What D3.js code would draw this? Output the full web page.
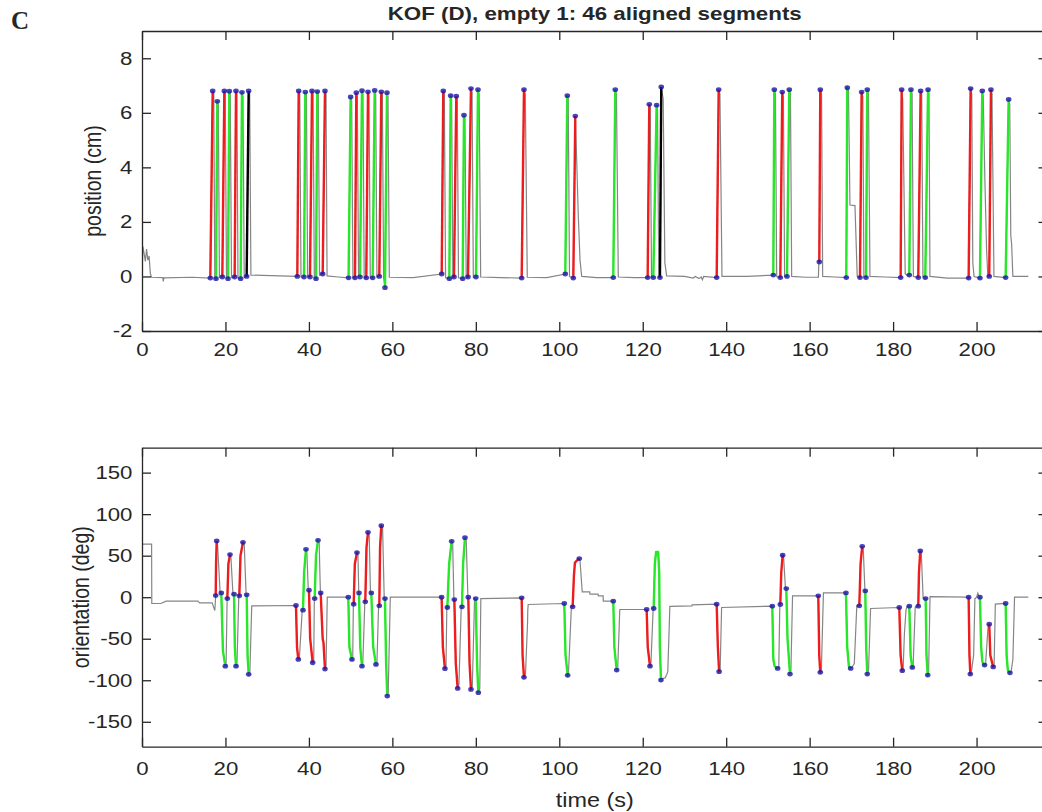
<!DOCTYPE html>
<html>
<head>
<meta charset="utf-8">
<script src="https://cdn.jsdelivr.net/npm/d3@7"></script>
<style>
body { margin: 0; background: #fff; }
text { font-family: "Liberation Sans", Arial, sans-serif; fill: #262626; }
.axis path, .axis line { stroke: #262626; stroke-width: 1.3; }
</style>
</head>
<body>
<svg id="chart" width="1042" height="812"></svg>
<script>
/* values */
var timeDomain = [0, 217];
var timeTicks = [0, 20, 40, 60, 80, 100, 120, 140, 160, 180, 200];
var posTicks = [-2, 0, 2, 4, 6, 8];
var oriTicks = [-150, -100, -50, 0, 50, 100, 150];

/* position trace (time s, cm) */
var posTrace = [[0,-0.02],[0.2,1.1],[0.5,0.85],[0.8,0.55],[1.1,1.0],[1.4,0.6],[1.7,0.75],[2.0,0.1],[2.3,-0.03],[5.0,-0.04],[5.1,-0.18],[5.25,-0.05],[12,-0.03],
[16.37,-0.06],[16.94,6.8],[17.2,6.7],[17.45,-0.05],
[17.73,-0.08],[18.05,6.42],[18.3,6.3],[18.55,-0.03],
[19.25,-0.02],[19.73,6.8],[19.95,6.7],[20.25,-0.05],
[20.61,-0.08],[20.92,6.79],[21.15,6.7],[21.45,-0.04],
[22.2,-0.02],[22.53,6.8],[22.75,6.7],[23.0,-0.05],
[23.64,-0.08],[23.96,6.75],[24.2,6.6],[24.5,-0.04],
[25.08,0.0],[25.56,6.8],[25.8,6.7],[26.1,0.05],[31,0.03],
[37.22,0.0],[37.55,6.8],[37.8,6.7],[38.1,-0.02],
[38.82,-0.02],[39.14,6.76],[39.4,6.65],[39.7,-0.02],
[40.26,-0.02],[40.74,6.8],[41.0,6.7],[41.3,-0.05],
[41.7,-0.08],[42.01,6.78],[42.25,6.7],[42.55,0.05],
[43.3,0.09],[43.85,6.8],[44.1,6.7],[44.35,0.02],[47,-0.02],
[49.5,-0.05],[50.0,6.58],[50.25,6.45],[50.55,-0.05],
[51.04,-0.05],[51.36,6.74],[51.6,6.6],[51.9,-0.02],
[52.24,-0.02],[52.72,6.81],[52.95,6.7],[53.25,-0.05],
[53.75,-0.05],[54.16,6.77],[54.4,6.65],[54.7,-0.05],
[55.28,-0.05],[55.76,6.82],[56.0,6.7],[56.3,-0.02],
[56.87,0.0],[57.35,6.77],[57.6,6.65],[57.9,-0.05],
[58.23,-0.41],[58.71,6.74],[58.95,6.6],[59.27,-0.03],[65,-0.04],
[71.82,0.09],[72.2,6.8],[72.45,6.7],[72.75,-0.05],
[73.65,-0.08],[73.97,6.63],[74.2,6.5],[74.5,-0.04],
[74.77,-0.02],[75.32,6.61],[75.55,6.5],[75.85,-0.05],
[76.85,-0.08],[77.16,5.91],[77.4,5.8],[77.7,-0.05],
[78.12,-0.02],[78.84,6.89],[79.1,6.75],[79.4,-0.03],
[80.04,-0.02],[80.52,6.85],[80.8,6.7],[81.16,-0.02],[86,-0.04],
[90.99,-0.06],[91.54,6.85],[91.85,6.7],[92.33,-0.03],[97,-0.04],
[101.44,0.09],[101.92,6.63],[102.15,6.5],[102.45,0.0],
[103.36,-0.06],[103.84,5.88],[104.17,4.27],[104.57,2.17],[104.97,0.6],[105.37,0.0],[109,-0.04],
[112.94,-0.04],[113.42,6.85],[113.7,6.7],[114.14,-0.02],[118,-0.04],
[121.18,-0.04],[121.57,6.31],[121.8,6.2],[122.1,-0.02],
[122.53,-0.04],[123.33,6.28],[123.55,6.1],[123.85,-0.02],
[124.13,-0.04],[124.44,6.95],[124.9,6.5],[125.3,0.5],[125.73,0.02],[130,0.0],[132.1,-0.06],[132.6,0.0],[133.5,-0.08],[134.0,-0.02],[134.3,-0.12],[134.6,0.0],
[137.72,-0.04],[138.2,6.85],[138.5,6.7],[138.99,0.0],[145,0.0],
[151.29,0.05],[151.53,6.85],[151.8,6.7],[152.1,0.0],
[152.97,-0.04],[153.44,6.76],[153.7,6.6],[154.0,0.0],
[154.57,0.0],[155.12,6.85],[155.4,6.7],[155.69,0.0],[159,-0.03],[162.1,-0.03],[162.2,0.5],
[162.31,0.53],[162.55,6.85],[162.85,6.7],[163.12,0.0],[166,-0.02],
[168.78,-0.04],[169.02,6.92],[169.3,6.85],[169.66,2.62],[170.86,2.6],[171.4,0.0],
[172.06,-0.04],[172.46,6.76],[172.75,6.6],[173.0,0.0],
[173.5,-0.04],[173.81,6.85],[174.1,6.7],[174.45,0.0],[178,-0.02],
[181.81,-0.04],[182.05,6.85],[182.3,6.5],[182.9,0.1],[183.3,0.05],
[183.88,0.05],[184.28,6.85],[184.55,6.7],[184.85,0.0],
[186.03,-0.04],[186.6,6.8],[186.85,6.7],[187.15,0.0],
[187.71,-0.04],[188.38,6.85],[188.6,6.7],[188.83,0.0],[193,-0.06],
[198.1,-0.06],[198.58,6.89],[198.85,6.7],[199.1,0.5],[199.4,0.0],
[200.81,-0.06],[201.37,6.8],[201.6,6.6],[202.0,3.5],[202.4,1.0],[202.7,0.0],
[203.04,0.0],[203.45,6.85],[203.7,6.7],[204.17,0.0],
[206.97,-0.04],[207.69,6.49],[207.95,6.3],[208.2,1.5],[208.4,1.2],[208.7,0.0],[212.4,0.0]];

/* highlighted position segments: start time, end time, colour code */
var posSegments = [[16.37,16.94,"r"],[17.73,18.05,"g"],[19.25,19.73,"r"],[20.61,20.92,"g"],[22.2,22.53,"r"],[23.64,23.96,"g"],[25.08,25.56,"k"],
[37.22,37.55,"r"],[38.82,39.14,"g"],[40.26,40.74,"r"],[41.7,42.01,"g"],[43.3,43.85,"r"],
[49.5,50.0,"g"],[51.04,51.36,"r"],[52.24,52.72,"g"],[53.75,54.16,"r"],[55.28,55.76,"g"],[56.87,57.35,"r"],[58.23,58.71,"g"],
[71.82,72.2,"r"],[73.65,73.97,"g"],[74.77,75.32,"r"],[76.85,77.16,"g"],[78.12,78.84,"r"],[80.04,80.52,"g"],
[90.99,91.54,"r"],[101.44,101.92,"g"],[103.36,103.84,"r"],[112.94,113.42,"g"],[121.18,121.57,"r"],[122.53,123.33,"g"],[124.13,124.44,"k"],[137.72,138.2,"r"],
[151.29,151.53,"g"],[152.97,153.44,"r"],[154.57,155.12,"g"],[162.31,162.55,"r"],[168.78,169.02,"g"],[172.06,172.46,"r"],[173.5,173.81,"g"],
[181.81,182.05,"r"],[183.88,184.28,"g"],[186.03,186.6,"r"],[187.71,188.38,"g"],[198.1,198.58,"r"],[200.81,201.37,"g"],[203.04,203.45,"r"],[206.97,207.69,"g"]];

/* orientation trace (time s, deg) */
var oriTrace = [[0,64],[2.3,64],[2.35,-7.6],[4.5,-7.6],[5.8,-4.8],[13.4,-4.8],[13.8,-6.8],[16.8,-6.8],[17.3,-14],[17.45,-16],
[17.66,2.0],[17.75,40],[17.9,67.7],[18.1,64],[18.75,3],
[19.0,5.2],[19.4,-65],[19.97,-83],[20.15,-82],[20.4,-1.6],
[20.45,-1.6],[20.7,40],[21.09,51.3],[21.3,49],[21.8,3.6],
[22.05,3.6],[22.25,-60],[22.53,-83],[22.75,-82],[23.2,1.6],
[23.32,1.6],[23.6,50],[24.2,66.1],[24.5,64],[24.95,2.8],
[25.09,2.8],[25.3,-70],[25.57,-92.9],[25.85,-90],[26.3,-10.5],
[36.9,-10],[37.15,-60],[37.46,-74.9],[37.7,-74],[38.4,-15.6],
[38.58,-15.6],[38.85,30],[39.3,57.7],[39.5,55],[39.85,8.4],
[40.02,8.4],[40.3,-50],[40.9,-78.9],[41.15,-78],[41.3,-1.6],
[41.38,-1.6],[41.7,50],[42.18,68.5],[42.45,66],[42.75,5.2],
[42.82,5.2],[43.3,-50],[43.5,-55],[43.85,-86.5],[44.1,-85],[44.4,0],
[49.44,0],[49.7,-60],[50.32,-74.9],[50.5,-74],[50.65,-8.4],
[50.73,-8.4],[51.0,40],[51.52,53.7],[51.75,52],[51.95,5.2],
[52.0,5.2],[52.3,-60],[52.72,-83],[52.9,-82],[53.4,-5.6],
[53.51,-5.6],[53.8,60],[54.16,78.1],[54.45,75],[54.75,5.2],
[54.95,5.2],[55.4,-60],[56.07,-80.9],[56.3,-80],[56.7,-10.4],
[56.87,-10.4],[57.05,60],[57.35,86.1],[57.65,84],[58.05,-1.6],
[58.23,-1.6],[58.5,-80],[58.78,-119],[59.0,-116],[59.5,0],
[71.8,0],[72.1,-60],[72.6,-86],[72.85,-85],[73.05,-12.4],
[73.17,-12.4],[73.6,40],[74.21,67.3],[74.45,65],[74.75,-2.8],
[74.85,-2.8],[75.2,-80],[75.65,-109.8],[75.95,-105],[76.5,-11.6],
[76.68,-11.6],[76.95,40],[77.4,71.7],[77.7,68],[78.1,0],
[78.2,0],[78.5,-80],[78.84,-111],[79.15,-108],[79.7,-1.6],
[79.97,-1.6],[80.3,-80],[80.6,-115],[80.95,-110],[81.2,-1.6],
[90.99,-0.8],[91.2,-70],[91.54,-96.5],[91.9,-93],[92.4,-30],[92.45,-16],[92.55,-8.8],
[101.2,-7.6],[101.5,-70],[102.01,-94.1],[102.2,-92],[102.9,-11.6],
[103.2,-11.6],[103.5,25],[103.75,41.7],[104.2,44],[104.8,46.5],[104.95,45],[105.5,6.4],[107.3,6.4],[107.35,3.6],[109.3,3.6],[109.35,1.6],[110.5,1.6],[110.55,-4.8],
[112.94,-4.8],[113.2,-60],[113.76,-87.7],[114.0,-86],[114.5,-14.8],
[120.94,-14.8],[121.2,-60],[121.74,-83],[121.95,-82],[122.5,-13.6],
[122.62,-13.6],[122.9,40],[123.2,54.5],[123.7,54.5],[123.95,30],[124.1,-60],[124.37,-99.8],[124.7,-98],[125.4,-97],[126.0,-90],[126.5,-11],[131.8,-10.4],[131.85,-9.2],
[137.72,-8.4],[138.0,-60],[138.3,-89.7],[138.55,-88],[138.9,-12.4],
[151.05,-10.8],[151.3,-75],[151.6,-83],[152.33,-85.7],[152.6,-85],[152.85,-10],
[152.97,-8.8],[153.2,30],[153.53,50.5],[153.75,49],[154.2,11],
[154.4,10.4],[154.7,-50],[155.29,-92.5],[155.5,-90],[155.9,1.6],
[162.07,1.6],[162.3,-70],[162.55,-90.5],[162.8,-89],[163.3,5.2],
[168.7,5.2],[169.0,-60],[169.4,-83],[169.83,-85.7],[170.2,-84],[170.7,-80],[171.3,-10.4],
[171.9,-10.4],[172.2,40],[172.6,61.3],[172.85,58],[173.25,7.6],
[173.33,7.6],[173.55,-60],[173.81,-92.5],[174.1,-90],[174.6,-13.6],
[181.48,-12.4],[181.8,-70],[182.2,-88.5],[182.4,-87],[182.7,-45],[183.1,-15],[183.4,-10.8],
[183.88,-10.8],[184.2,-70],[184.6,-84.5],[184.8,-83],[185.3,-12],
[186.03,-10.8],[186.2,30],[186.51,55.7],[186.75,54],[187.2,-1.6],
[187.8,-1.6],[188.0,-70],[188.3,-93.8],[188.5,-92],[188.85,0.8],
[198.1,0],[198.3,-70],[198.5,-92.5],[198.75,-90],[199.3,-70],[199.6,-2],[200.0,0],[200.3,5],[200.6,1],
[200.81,0],[201.1,-60],[201.4,-78],[201.92,-81.7],[202.15,-81],[202.8,-32.5],
[203.04,-32.5],[203.3,-70],[203.99,-84],[204.2,-83],[204.5,-8.4],
[206.97,-7.6],[207.2,-70],[207.5,-88],[208.0,-91],[208.3,-89],[208.7,-75],[209.1,0],[212.4,0]];

/* highlighted orientation segments */
var oriSegments = [[17.66,17.9,"r"],[19.0,19.97,"g"],[20.45,21.09,"r"],[22.05,22.53,"g"],[23.32,24.2,"r"],[25.09,25.57,"g"],
[36.9,37.46,"r"],[38.58,39.3,"g"],[40.02,40.9,"r"],[41.38,42.18,"g"],[42.82,43.85,"r"],
[49.44,50.32,"g"],[50.73,51.52,"r"],[52.0,52.72,"g"],[53.51,54.16,"r"],[54.95,56.07,"g"],[56.87,57.35,"r"],[58.23,58.78,"g"],
[71.8,72.6,"r"],[73.17,74.21,"g"],[74.85,75.65,"r"],[76.68,77.4,"g"],[78.2,78.84,"r"],[79.97,80.6,"g"],
[90.99,91.54,"r"],[101.2,102.01,"g"],[103.2,104.8,"r"],[112.94,113.76,"g"],[120.94,121.74,"r"],[122.62,124.37,"g"],[137.72,138.3,"r"],
[151.05,152.33,"g"],[152.97,153.53,"r"],[154.4,155.29,"g"],[162.07,162.55,"r"],[168.7,169.83,"g"],[171.9,172.6,"r"],[173.33,173.81,"g"],
[181.48,182.2,"r"],[183.88,184.6,"g"],[186.03,186.51,"r"],[187.8,188.3,"g"],[198.1,198.5,"r"],[200.81,201.92,"g"],[203.04,203.99,"r"],[206.97,208.0,"g"]];

var segColor = { r: "#ee1c1c", g: "#27e827", k: "#000000" };
var stretch = "scale(1.2,1)";   // the figure was widened a bit

var svg = d3.select("#chart");
var left = 142, right = 1047.5;

var xScale = d3.scaleLinear().domain(timeDomain).range([left, right]);

function plain(d) { return String(d); }

function drawPanel(top, bottom, yDomain, yTicks, trace, segments, label, labelX, pad, name) {
	var yScale = d3.scaleLinear().domain(yDomain).range([bottom, top]);
	var g = svg.append("g").attr("class", name);

	g.append("clipPath").attr("id", "clip-" + name)
		.append("rect").attr("x", left).attr("y", top)
		.attr("width", right - left).attr("height", bottom - top);

	var line = d3.line()
		.x(function (d) { return xScale(d[0]); })
		.y(function (d) { return yScale(d[1]); });

	var plot = g.append("g").attr("clip-path", "url(#clip-" + name + ")");

	plot.append("path")
		.datum(trace)
		.attr("d", line)
		.attr("fill", "none")
		.attr("stroke", "#858585")
		.attr("stroke-width", 1.2);

	var pieces = segments.map(function (s) {
		return {
			c: s[2],
			pts: trace.filter(function (p) { return p[0] >= s[0] - 1e-6 && p[0] <= s[1] + 1e-6; })
		};
	});

	plot.selectAll("path.seg").data(pieces).enter()
		.append("path")
		.attr("class", "seg")
		.attr("d", function (d) { return line(d.pts); })
		.attr("fill", "none")
		.attr("stroke", function (d) { return segColor[d.c]; })
		.attr("stroke-width", 2.4)
		.attr("stroke-linejoin", "round");

	var ends = [];
	pieces.forEach(function (d) {
		ends.push(d.pts[0]);
		ends.push(d.pts[d.pts.length - 1]);
	});
	plot.selectAll("ellipse.dot").data(ends).enter()
		.append("ellipse")
		.attr("class", "dot")
		.attr("cx", function (d) { return xScale(d[0]); })
		.attr("cy", function (d) { return yScale(d[1]); })
		.attr("rx", 2.8)
		.attr("ry", 2.4)
		.attr("fill", "#1c14a8")
		.attr("fill-opacity", 0.8);

	/* axes, box with inward ticks */
	g.append("g").attr("class", "axis")
		.attr("transform", "translate(0," + bottom + ")")
		.call(d3.axisBottom(xScale).tickValues(timeTicks).tickFormat(plain).tickSizeInner(-9).tickSizeOuter(0).tickPadding(pad));
	g.append("g").attr("class", "axis")
		.attr("transform", "translate(0," + top + ")")
		.call(d3.axisTop(xScale).tickValues(timeTicks).tickSizeInner(-9).tickSizeOuter(0).tickFormat(""));
	g.append("g").attr("class", "axis")
		.attr("transform", "translate(" + left + ",0)")
		.call(d3.axisLeft(yScale).tickValues(yTicks).tickFormat(plain).tickSizeInner(-9).tickSizeOuter(0).tickPadding(8));
	g.append("g").attr("class", "axis")
		.attr("transform", "translate(" + right + ",0)")
		.call(d3.axisRight(yScale).tickValues(yTicks).tickSizeInner(-9).tickSizeOuter(0).tickFormat(""));

	g.selectAll(".axis text")
		.style("font-size", "18.5px")
		.attr("fill", "#1f1f1f")
		.attr("transform", stretch);

	g.append("text")
		.attr("transform", "translate(" + labelX + "," + ((top + bottom) / 2) + ") " + stretch + " rotate(-90)")
		.attr("text-anchor", "middle")
		.attr("fill", "#1f1f1f")
		.style("font-size", "19.5px")
		.text(label);
}

drawPanel(31, 331, [-2, 9], posTicks, posTrace, posSegments, "position (cm)", 101, 12, "pos");
drawPanel(447.7, 746.7, [-180, 180], oriTicks, oriTrace, oriSegments, "orientation (deg)", 89, 15, "ori");

svg.append("text")
	.attr("transform", "translate(" + ((left + right) / 2) + ",800) " + stretch)
	.attr("text-anchor", "middle")
	.attr("dy", "0.35em")
	.attr("fill", "#1f1f1f")
	.style("font-size", "19.5px")
	.text("time (s)");

svg.append("text")
	.attr("transform", "translate(" + ((left + right) / 2) + ",20) " + stretch)
	.attr("text-anchor", "middle")
	.style("font-size", "18.6px")
	.style("font-weight", "bold")
	.attr("fill", "#000")
	.text("KOF (D), empty 1: 46 aligned segments");

svg.append("text")
	.attr("x", 11)
	.attr("y", 29)
	.style("font-family", "'Liberation Serif', 'DejaVu Serif', serif")
	.style("font-size", "25px")
	.style("font-weight", "bold")
	.attr("fill", "#000")
	.text("C");
</script>
</body>
</html>
